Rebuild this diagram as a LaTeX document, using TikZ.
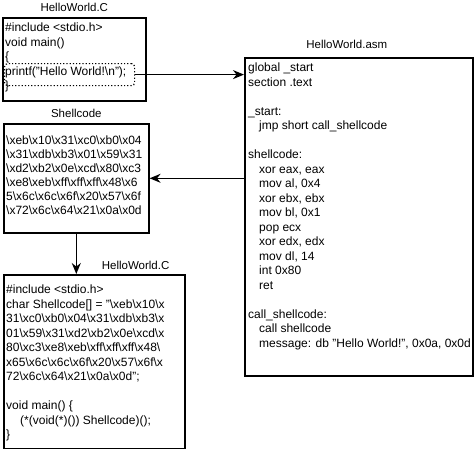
\documentclass[tikz,border=0pt]{standalone}
\usepackage{fontspec}
\setmainfont{Liberation Sans}
\usetikzlibrary{arrows.meta,positioning}
\newcommand{\bs}{\textbackslash}
\tikzset{
    filebox/.style={draw, line width=1.6pt, rectangle, inner sep=0pt, anchor=north west},
    codetext/.style={anchor=north west, inner sep=0pt, align=left, font=\fontsize{12}{14.5}\selectfont},
    filename/.style={inner sep=0pt, font=\fontsize{11.5}{13}\selectfont},
    flow/.style={line width=1.4pt, -{Stealth[length=11pt,width=9pt]}},
}

\begin{document}
\begin{tikzpicture}[x=1pt, y=-1pt]
    \useasboundingbox (0,0) rectangle (474,448);
    % HelloWorld.C (source)
    \node[filebox, minimum width=143pt, minimum height=83pt] (src) at (2,17) {};
    \node[filename, above=5pt of src] (srcname) {HelloWorld.C};
    \node[codetext] (srctext) at (5,23) {\#include <stdio.h>\\void main()\\\{\\printf("Hello World!\bs n");\\\}};
    \node[draw, dotted, line width=1.2pt, rounded corners=3pt, anchor=north west, minimum width=130pt, minimum height=22pt] (printf) at (4,63) {};
    % HelloWorld.asm
    \node[filebox, minimum width=228pt, minimum height=318pt] (asm) at (244,57) {};
    \node[filename, above=8pt of asm, xshift=-12pt] (asmname) {HelloWorld.asm};
    \node[codetext] (asmtext) at (248,63) {global \_start\\section .text\\[14.5pt]
        \_start:\\\hspace*{11pt}jmp short call\_shellcode\\[14.5pt]
        shellcode:\\\hspace*{11pt}xor eax, eax\\\hspace*{11pt}mov al, 0x4\\\hspace*{11pt}xor ebx, ebx\\
        \hspace*{11pt}mov bl, 0x1\\\hspace*{11pt}pop ecx\\\hspace*{11pt}xor edx, edx\\\hspace*{11pt}mov dl, 14\\
        \hspace*{11pt}int 0x80\\\hspace*{11pt}ret\\[14.5pt]
        call\_shellcode:\\\hspace*{11pt}call shellcode\\\hspace*{11pt}message: db "Hello World!", 0x0a, 0x0d};
    % Shellcode
    \node[filebox, minimum width=145pt, minimum height=109pt] (code) at (3,123) {};
    \node[filename, above=5pt of code] (codename) {Shellcode};
    \node[codetext, font=\fontsize{12}{14}\selectfont] (codetext) at (6,136) {\bs xeb\bs x10\bs x31\bs xc0\bs xb0\bs x04\\
        \bs x31\bs xdb\bs xb3\bs x01\bs x59\bs x31\\
        \bs xd2\bs xb2\bs x0e\bs xcd\bs x80\bs xc3\\
        \bs xe8\bs xeb\bs xff\bs xff\bs xff\bs x48\bs x6\\
        5\bs x6c\bs x6c\bs x6f\bs x20\bs x57\bs x6f\\
        \bs x72\bs x6c\bs x64\bs x21\bs x0a\bs x0d};
    % HelloWorld.C (loader)
    \node[filebox, minimum width=181pt, minimum height=174pt] (main) at (3,274) {};
    \node[filename, above left=4pt and 16pt of main.north east] (mainname) {HelloWorld.C};
    \node[codetext] (maintext) at (6,285) {\#include <stdio.h>\\
        char Shellcode[] = "\bs xeb\bs x10\bs x\\
        31\bs xc0\bs xb0\bs x04\bs x31\bs xdb\bs xb3\bs x\\
        01\bs x59\bs x31\bs xd2\bs xb2\bs x0e\bs xcd\bs x\\
        80\bs xc3\bs xe8\bs xeb\bs xff\bs xff\bs xff\bs x48\bs\\
        x65\bs x6c\bs x6c\bs x6f\bs x20\bs x57\bs x6f\bs x\\
        72\bs x6c\bs x64\bs x21\bs x0a\bs x0d";\\[14.5pt]
        void main() \{\\
        \hspace*{14pt}(*(void(*)()) Shellcode)();\\
        \}};
    % flow
    \draw[flow] (printf.east) -- (printf.east -| asm.west);
    \draw[flow] (asm.west |- code.east) -- (code.east);
    \draw[flow] (code.south) -- (code.south |- main.north);
\end{tikzpicture}
\end{document}
